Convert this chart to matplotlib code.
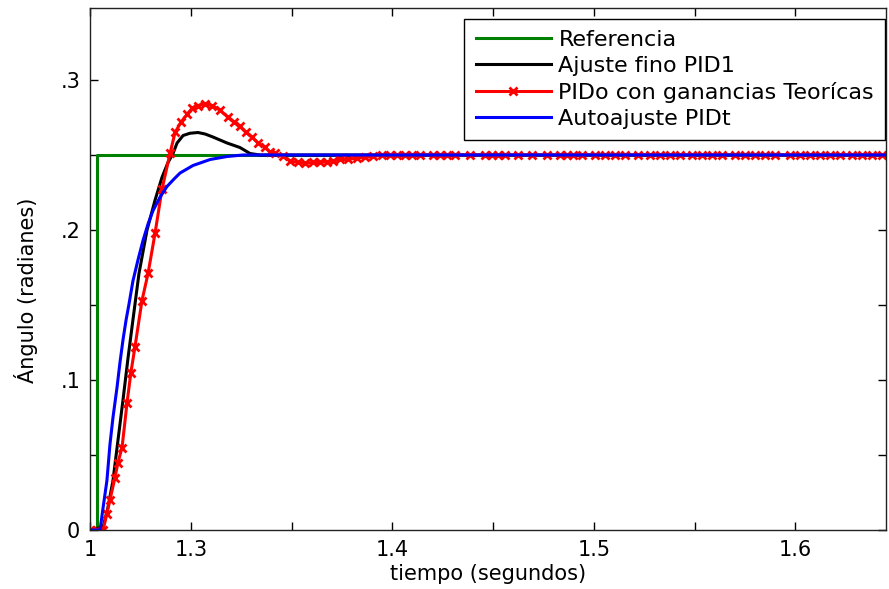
import matplotlib
matplotlib.use("Agg")
import matplotlib.pyplot as plt

# ---- data ----
t_ref = [1.2500, 1.2535, 1.2535, 1.6460]
v_ref = [0.0, 0.0, 0.25, 0.25]

t_pid1 = [1.2500, 1.2565, 1.2589, 1.2614, 1.2639, 1.2664, 1.2689, 1.2713, 1.2743,
          1.2783, 1.2823, 1.2857, 1.2887, 1.2912, 1.2932, 1.2962, 1.2996, 1.3036,
          1.3071, 1.3110, 1.3180, 1.3244, 1.3294, 1.3344, 1.6460]
v_pid1 = [0.0, 0.002, 0.015, 0.033, 0.060, 0.087, 0.115, 0.140, 0.171,
          0.200, 0.220, 0.235, 0.245, 0.251, 0.258, 0.263, 0.2645, 0.265,
          0.264, 0.262, 0.258, 0.255, 0.251, 0.250, 0.250]

t_pido = [1.2500, 1.2535, 1.2565, 1.2584, 1.2599, 1.2624, 1.2639, 1.2659, 1.2684,
          1.2703, 1.2723, 1.2758, 1.2788, 1.2823, 1.2857, 1.2897, 1.2922, 1.2952,
          1.2981, 1.3006, 1.3036, 1.3071, 1.3105, 1.3145, 1.3185, 1.3215, 1.3244,
          1.3274, 1.3304, 1.3334, 1.3368, 1.3393, 1.3418, 1.3458, 1.3493, 1.3532,
          1.3567, 1.3607, 1.3641, 1.3676, 1.3706, 1.3741, 1.3780, 1.3825, 1.3865,
          1.3904, 1.3949, 1.3989, 1.4024, 1.4063, 1.4098, 1.4138, 1.4202, 1.4237,
          1.4272, 1.4311, 1.4386, 1.4460, 1.4495, 1.4525, 1.4560, 1.4624, 1.4694,
          1.4768, 1.4833, 1.4867, 1.4897, 1.4942, 1.5006, 1.5056, 1.5105, 1.5155,
          1.5220, 1.5279, 1.5329, 1.5378, 1.5428, 1.5488, 1.5537, 1.5587, 1.5636,
          1.5701, 1.5751, 1.5800, 1.5850, 1.5900, 1.5974, 1.6024, 1.6073, 1.6123,
          1.6172, 1.6222, 1.6282, 1.6331, 1.6381, 1.6431]
v_pido = [0.0, 0.0, 0.0, 0.011, 0.020, 0.035, 0.045, 0.055, 0.085,
          0.105, 0.122, 0.153, 0.171, 0.198, 0.227, 0.251, 0.265, 0.272,
          0.277, 0.281, 0.283, 0.284, 0.283, 0.280, 0.275, 0.272, 0.269,
          0.265, 0.262, 0.258, 0.255, 0.252, 0.251, 0.249, 0.246, 0.245,
          0.2445, 0.245, 0.245, 0.2455, 0.246, 0.247, 0.247, 0.248, 0.2485,
          0.249, 0.250, 0.250, 0.250, 0.250, 0.250, 0.250, 0.250, 0.250,
          0.250, 0.250, 0.250, 0.250, 0.250, 0.250, 0.250, 0.250, 0.250,
          0.250, 0.250, 0.250, 0.250, 0.250, 0.250, 0.250, 0.250, 0.250,
          0.250, 0.250, 0.250, 0.250, 0.250, 0.250, 0.250, 0.250, 0.250,
          0.250, 0.250, 0.250, 0.250, 0.250, 0.250, 0.250, 0.250, 0.250,
          0.250, 0.250, 0.250, 0.250, 0.250, 0.250]

t_pidt = [1.2500, 1.2550, 1.2565, 1.2584, 1.2599, 1.2614, 1.2634, 1.2649, 1.2664,
          1.2679, 1.2694, 1.2713, 1.2738, 1.2763, 1.2788, 1.2813, 1.2848, 1.2882,
          1.2917, 1.2947, 1.3011, 1.3096, 1.3180, 1.3259, 1.6460]
v_pidt = [0.0, 0.0, 0.015, 0.033, 0.057, 0.075, 0.095, 0.112, 0.127,
          0.140, 0.151, 0.166, 0.180, 0.193, 0.204, 0.213, 0.222, 0.229,
          0.234, 0.238, 0.243, 0.247, 0.249, 0.250, 0.250]

labels = ["Referencia", "Ajuste fino PID1", "PIDo con ganancias Teorícas", "Autoajuste PIDt"]

x_ticks = [1.25, 1.30, 1.35, 1.40, 1.45, 1.50, 1.55, 1.60]
x_ticklabels = ["1", "1.3", "", "1.4", "", "1.5", "", "1.6"]
y_ticks = [0.0, 0.05, 0.10, 0.15, 0.20, 0.25, 0.30]
y_ticklabels = ["0", "", ".1", "", ".2", "", ".3"]

# ---- plot ----
plt.rcParams['font.family'] = ['DejaVu Sans']
fig = plt.figure(figsize=(8.89, 5.89), dpi=100)
ax = fig.add_axes([90/889, 59/589, 796/889, 522/589])

lw = 2.2
ax.plot(t_ref, v_ref, color="#008000", lw=lw, label=labels[0])
ax.plot(t_pid1, v_pid1, color="black", lw=lw, label=labels[1])
ax.plot(t_pido, v_pido, color="red", lw=lw, marker="x", ms=6, mew=2, label=labels[2])
ax.plot(t_pidt, v_pidt, color="blue", lw=lw, label=labels[3])

ax.set_xlim(1.25, 1.645)
ax.set_ylim(0, 0.348)
ax.set_xticks(x_ticks)
ax.set_xticklabels(x_ticklabels)
ax.set_yticks(y_ticks)
ax.set_yticklabels(y_ticklabels)
ax.tick_params(direction="in", length=6, width=1, top=True, right=True,
               labelsize=15, pad=7)
for s in ax.spines.values():
    s.set_linewidth(1)
    s.set_color("#222222")

ax.set_xlabel("tiempo (segundos)", fontsize=15)
ax.xaxis.set_label_coords(0.5, -0.066)
ax.set_ylabel("Ángulo (radianes)", fontsize=15)
ax.yaxis.set_label_coords(-0.065, 0.46)

leg = ax.legend(loc="upper right", bbox_to_anchor=(0.999, 0.979), borderaxespad=0,
                fontsize=16, fancybox=False, edgecolor="black", framealpha=1,
                handlelength=3.4, handletextpad=0.33, labelspacing=0.27,
                borderpad=0.5, markerscale=1)
leg.get_frame().set_linewidth(1)

fig.savefig("out.png", dpi=100)
